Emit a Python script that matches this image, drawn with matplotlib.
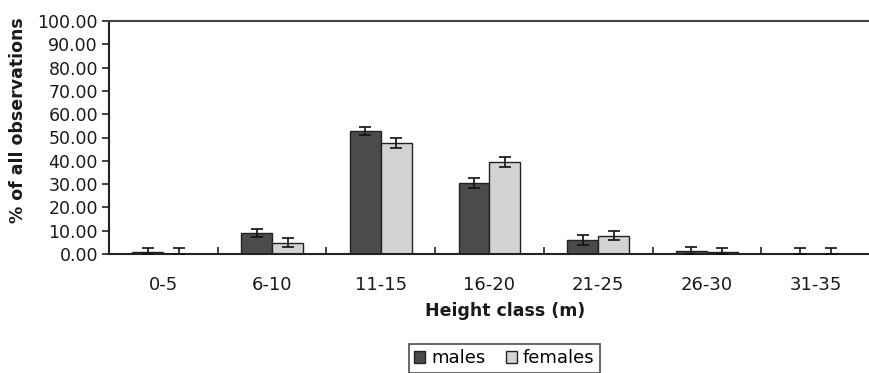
import numpy as np
import matplotlib.pyplot as plt
from matplotlib.patches import Patch

plt.rcParams['font.family'] = ['DejaVu Sans']

classes = ['0-5', '6-10', '11-15', '16-20', '21-25', '26-30', '31-35']
males = [0.9, 9.0, 52.9, 30.5, 6.1, 1.4, 0.0]
females = [0.0, 4.9, 47.6, 39.4, 7.9, 0.7, 0.0]
males_err = [1.6, 1.8, 1.8, 2.1, 2.1, 1.7, 2.4]
females_err = [2.4, 2.1, 2.1, 2.1, 1.9, 1.7, 2.4]

W, H = 870, 373
fig = plt.figure(figsize=(W / 100, H / 100), dpi=100)
ax = fig.add_axes([109 / W, 1 - 254 / H, 761 / W, 233 / H])

x = np.arange(len(classes))
w = 0.285
dark = '#4a4b4d'
light = '#d2d3d5'
edge = '#222222'

ax.bar(x - w / 2, males, w, color=dark, edgecolor=edge, linewidth=1.0, zorder=2)
ax.bar(x + w / 2, females, w, color=light, edgecolor=edge, linewidth=1.0, zorder=2)

# lower error bars stop at the axis
m_low = [min(v, e) for v, e in zip(males, males_err)]
f_low = [min(v, e) for v, e in zip(females, females_err)]
ax.errorbar(x - w / 2, males, yerr=[m_low, males_err], fmt='none',
            ecolor='#111111', elinewidth=1.2, capsize=4.5, capthick=1.2, zorder=3)
ax.errorbar(x + w / 2, females, yerr=[f_low, females_err], fmt='none',
            ecolor='#111111', elinewidth=1.2, capsize=4.5, capthick=1.2, zorder=3)

ax.set_xlim(-0.5, -0.5 + 761 / 109.6)
ax.set_ylim(0, 100)
ax.set_yticks(np.arange(0, 101, 10))
ax.set_yticklabels([f'{v:.2f}' for v in np.arange(0, 101, 10)], fontsize=12.5,
                   color='#1a1a1a')

ax.set_xticks(np.arange(len(classes) + 1) - 0.5)
ax.set_xticklabels([])
ax.set_xticks(x, minor=True)
ax.set_xticklabels(classes, minor=True, fontsize=13, color='#1a1a1a')
ax.tick_params(axis='x', which='minor', length=0, pad=16)
ax.tick_params(axis='x', which='major', direction='in', length=5, width=1.2, color='#222222')
ax.tick_params(axis='y', direction='out', length=5, width=1.2, color='#222222', pad=3)

for s in ['left', 'bottom']:
    ax.spines[s].set_linewidth(1.5)
    ax.spines[s].set_color('#222222')
ax.spines['top'].set_linewidth(1.5)
ax.spines['top'].set_color('#444444')
ax.spines['right'].set_visible(False)

fig.text(505 / W, 1 - 311 / H, 'Height class (m)', ha='center', va='center',
         fontsize=12.5, fontweight='bold', color='#1a1a1a')
fig.text(18 / W, 1 - 120 / H, '% of all observations', ha='center', va='center',
         rotation=90, fontsize=12.5, fontweight='bold', color='#1a1a1a')

handles = [Patch(facecolor=dark, edgecolor=edge, label='males'),
           Patch(facecolor=light, edgecolor=edge, label='females')]
leg = fig.legend(handles=handles, loc='upper left', bbox_to_anchor=(409 / W, 1 - 344 / H),
                 ncol=2, fontsize=13, frameon=True, fancybox=False, handlelength=0.6,
                 handleheight=0.6, handletextpad=0.35, columnspacing=1.1,
                 borderpad=0.3, borderaxespad=0)
leg.get_frame().set_edgecolor('#222222')
leg.get_frame().set_linewidth(1.2)

fig.savefig('out.png', dpi=100)
